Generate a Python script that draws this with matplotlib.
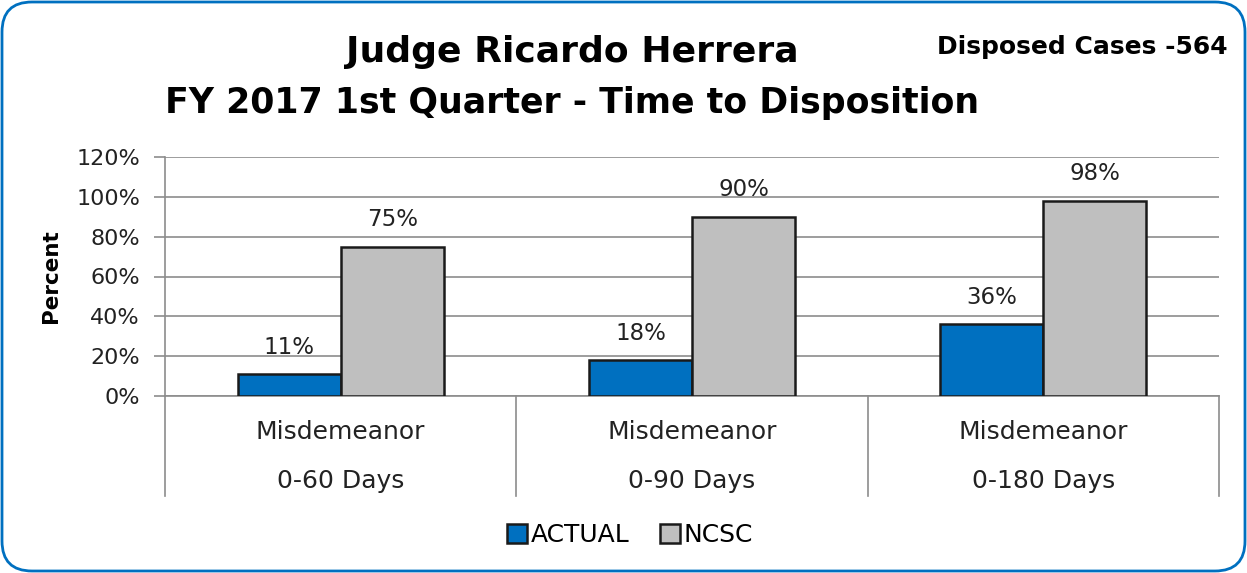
import matplotlib
matplotlib.use('Agg')
import matplotlib.pyplot as plt
from matplotlib.patches import FancyBboxPatch
from matplotlib.transforms import blended_transform_factory, IdentityTransform
import numpy as np

# data
categories = ['Misdemeanor\n0-60 Days', 'Misdemeanor\n0-90 Days', 'Misdemeanor\n0-180 Days']
actual = [11, 18, 36]
ncsc = [75, 90, 98]
yticks = [0, 20, 40, 60, 80, 100, 120]

BLUE = '#0070C0'
GREY = '#BFBFBF'
GRID = '#8C8C8C'
FONT = 'DejaVu Sans'
plt.rcParams['font.family'] = FONT

fig = plt.figure(figsize=(12.47, 5.73), dpi=100)
W, H = 1247, 573

# rounded blue frame (pixel coordinates)
fig.patches.append(FancyBboxPatch((2, 2), W - 4, H - 4,
                                  boxstyle='round,pad=0,rounding_size=30',
                                  transform=IdentityTransform(), fc='white',
                                  ec=BLUE, lw=2, zorder=-1))

ax = fig.add_axes([165 / W, 1 - 396 / H, (1219 - 165) / W, (396 - 157) / H])
ax.patch.set_alpha(0)
x = np.arange(len(categories))
bw = 0.293
b1 = ax.bar(x - bw / 2, actual, bw, color=BLUE, edgecolor='#1a1a1a', lw=1.8, label='ACTUAL', zorder=3)
b2 = ax.bar(x + bw / 2, ncsc, bw, color=GREY, edgecolor='#1a1a1a', lw=1.8, label='NCSC', zorder=3)
for bars, vals in ((b1, actual), (b2, ncsc)):
    for r, v in zip(bars, vals):
        ax.text(r.get_x() + r.get_width() / 2, v + 13.5, f'{v}%', ha='center', va='center',
                fontsize=16.5, color='#222222')

ax.set_xlim(-0.5, len(categories) - 0.5)
ax.set_ylim(0, 120)
ax.set_yticks(yticks)
ax.set_yticklabels([f'{t}%' for t in yticks], fontsize=16, color='#222222')
ax.yaxis.grid(True, color=GRID, lw=1.2, zorder=0)
ax.tick_params(axis='y', length=8, color=GRID, width=1.2, pad=10)
ax.set_xticks([])
for s in ('top', 'right'):
    ax.spines[s].set_visible(False)
ax.spines['left'].set_color(GRID)
ax.spines['left'].set_linewidth(1.2)
ax.spines['bottom'].set_color(GRID)
ax.spines['bottom'].set_linewidth(1.2)
ax.set_ylabel('Percent', fontsize=15.5, fontweight='bold')
ax.yaxis.set_label_coords(-104 / 1054, 0.5)

# category labels and divider lines below the axis
tr = blended_transform_factory(ax.transData, ax.transAxes)
for xi in np.arange(len(categories) + 1) - 0.5:
    ax.plot([xi, xi], [0, -100 / 239], color=GRID, lw=1.2, transform=tr, clip_on=False)
for xi, lab in zip(x, categories):
    top, bot = lab.split('\n')
    ax.text(xi, -36 / 239, top, ha='center', va='center', fontsize=18, color='#222222', transform=tr)
    ax.text(xi, -85 / 239, bot, ha='center', va='center', fontsize=18, color='#222222', transform=tr)

fig.text(572 / W, 1 - 52 / H, 'Judge Ricardo Herrera', ha='center', va='center',
         fontsize=26, fontweight='bold')
fig.text(572 / W, 1 - 103 / H, 'FY 2017 1st Quarter - Time to Disposition', ha='center', va='center',
         fontsize=25, fontweight='bold')
fig.text(1228 / W, 1 - 47 / H, 'Disposed Cases -564', ha='right', va='center',
         fontsize=18, fontweight='bold')

fig.legend(handles=[b1, b2], loc='center', bbox_to_anchor=(630 / W, 1 - 535 / H), ncol=2,
           frameon=False, fontsize=18, handlelength=0.8, handleheight=0.8,
           handletextpad=0.15, columnspacing=1.2)

fig.savefig('out.png', dpi=100)
